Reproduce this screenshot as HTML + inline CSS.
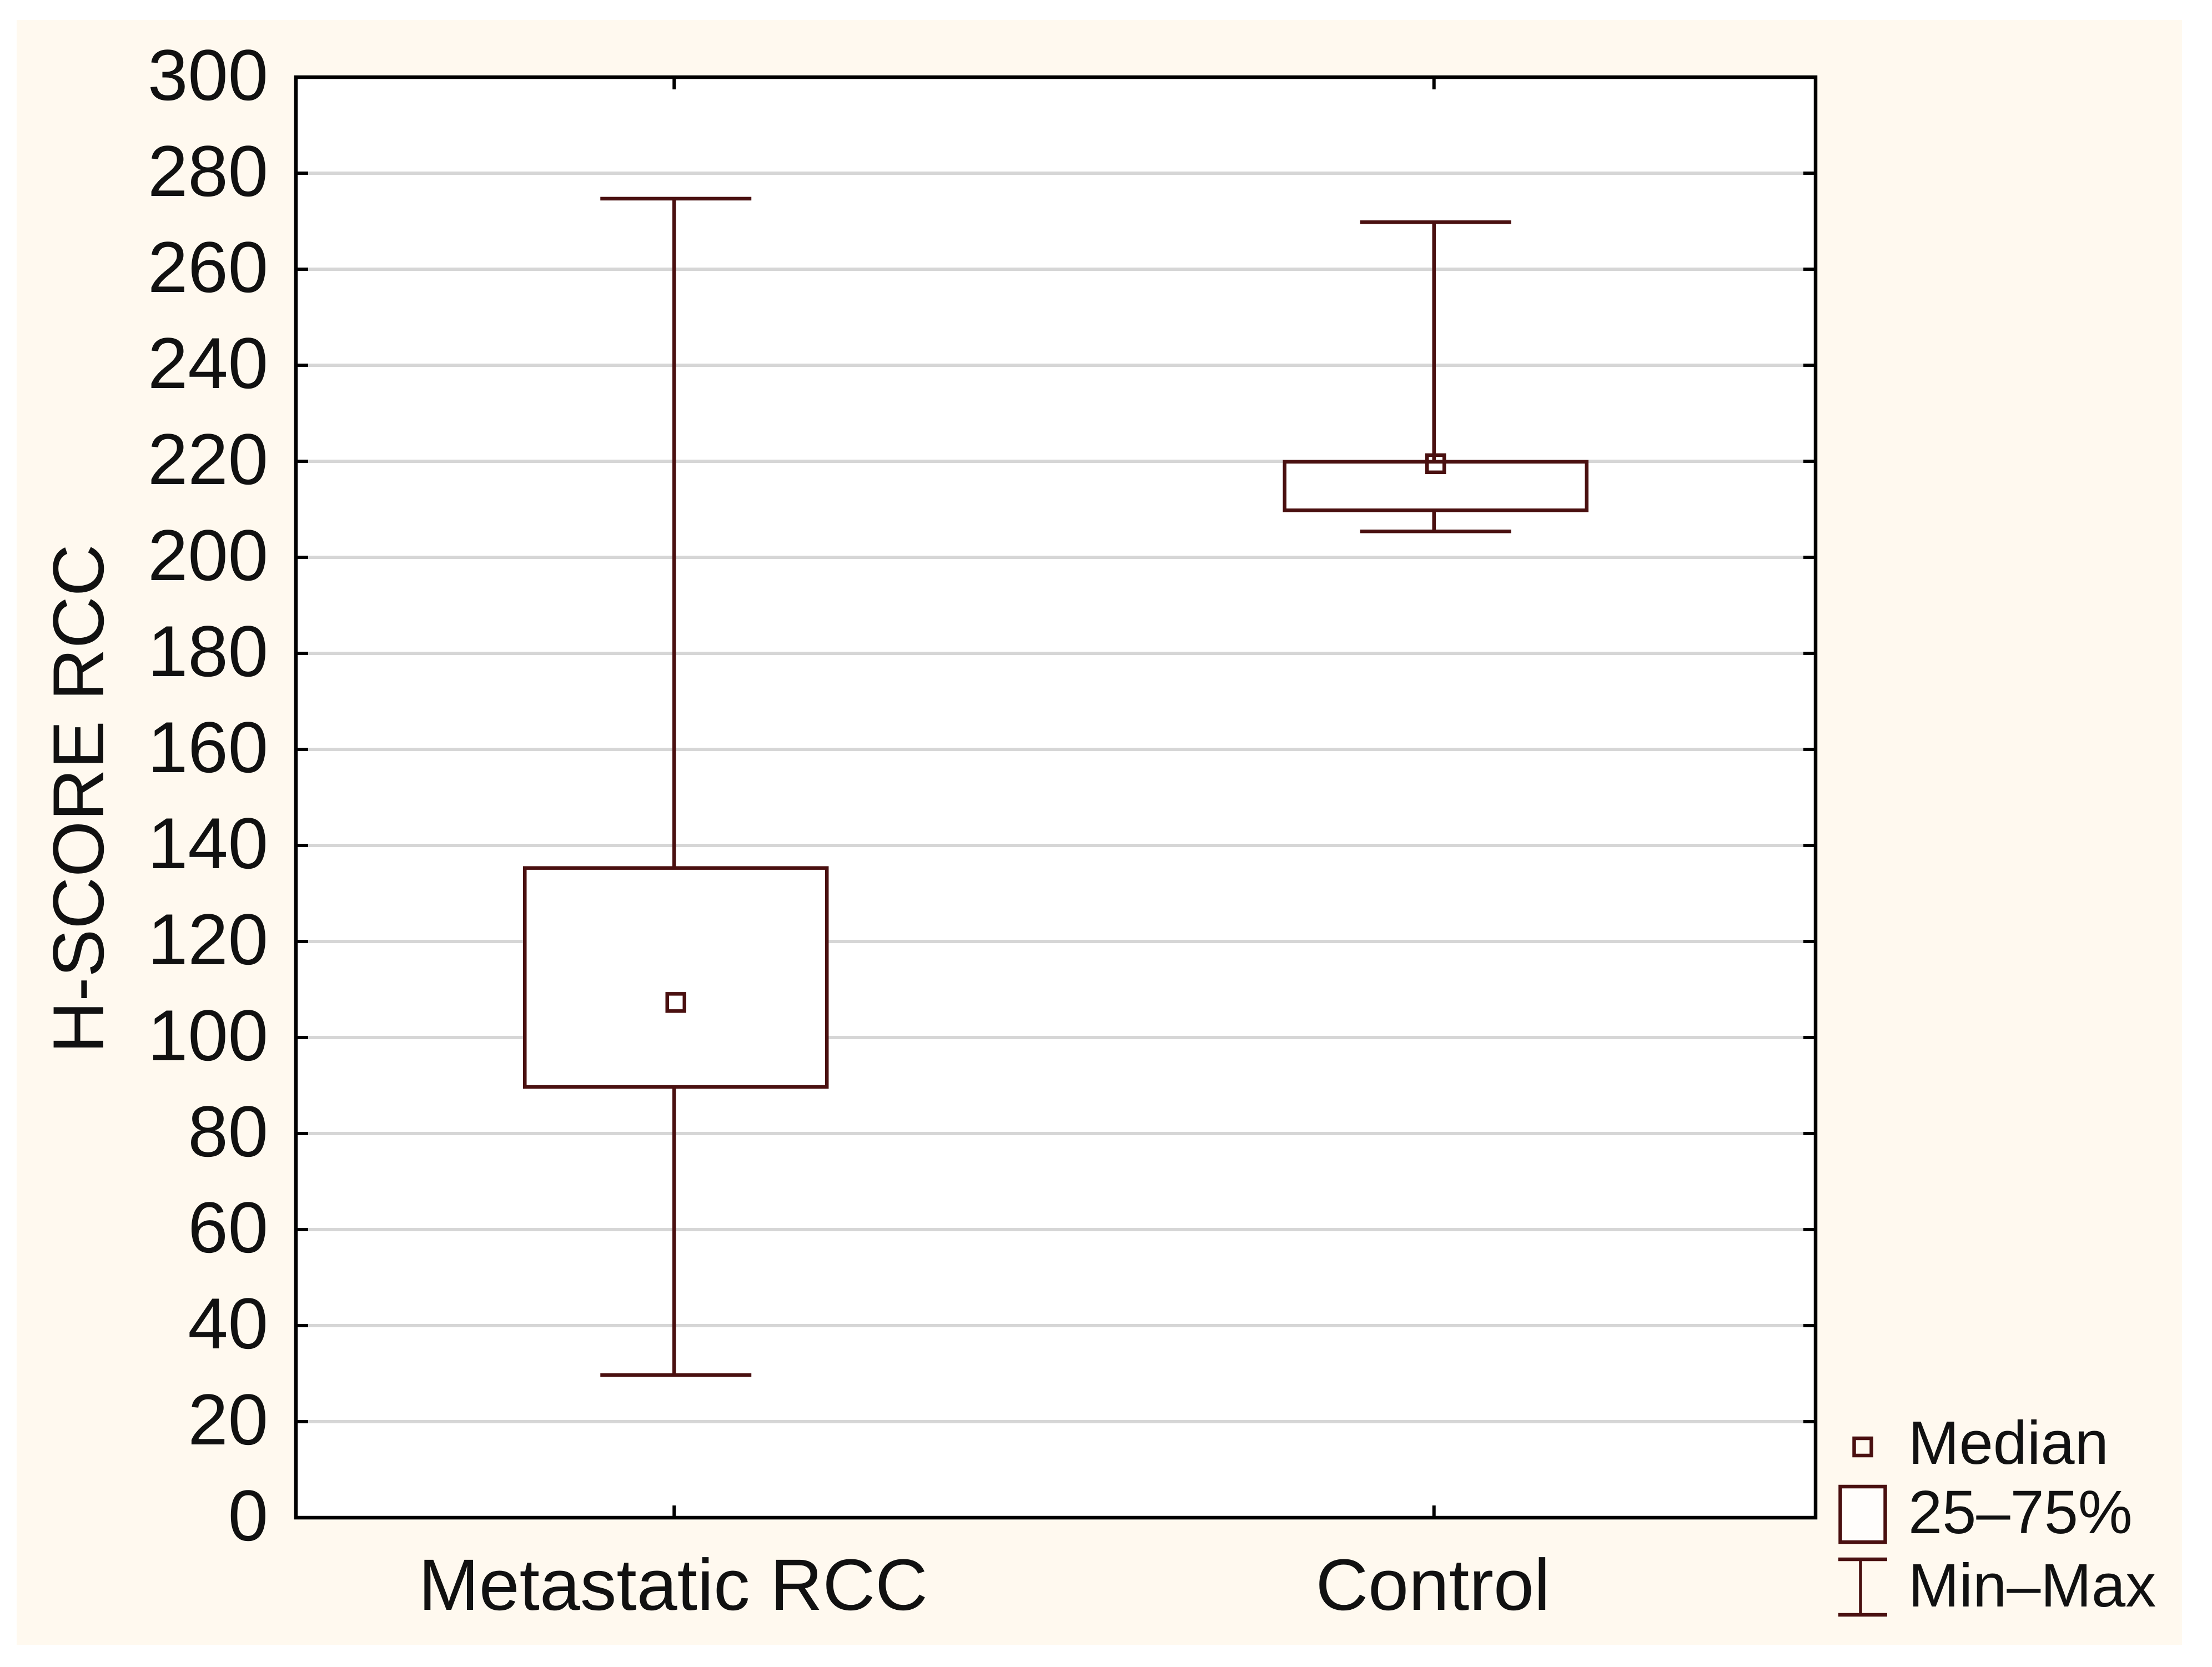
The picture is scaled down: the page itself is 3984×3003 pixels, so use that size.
<!DOCTYPE html>
<html lang="en">
<head>
<meta charset="utf-8">
<title>H-SCORE RCC box plot</title>
<style>
html,body{margin:0;padding:0;background:#fff;}
svg{display:block;}
text{font-family:"Liberation Sans",sans-serif;fill:#111;}
</style>
</head>
<body>
<svg id="chart" xmlns="http://www.w3.org/2000/svg" width="3984" height="3003" viewBox="0 0 3984 3003">
  <rect x="30" y="36" width="3900" height="2927" fill="#fff9ef"/>
  <rect x="533" y="139" width="2737" height="2595" fill="#ffffff"/>
  <g id="grid"></g>
  <g id="series"></g>
  <rect x="533" y="139" width="2737" height="2595" fill="none" stroke="#000" stroke-width="6.5"/>
  <g id="ticks"></g>
  <g id="ylabels" font-size="130" text-anchor="end"></g>
  <g id="xlabels" font-size="131" text-anchor="middle"></g>
  <text transform="translate(186 1439) rotate(-90)" font-size="130" text-anchor="middle">H-SCORE RCC</text>
  <g>
    <rect x="3339.5" y="2591" width="31" height="31" fill="none" stroke="#4a1010" stroke-width="6.5"/>
    <text x="3437" y="2637" font-size="110">Median</text>
    <rect x="3314.5" y="2678" width="81" height="100" fill="#fffdfb" stroke="#4a1010" stroke-width="6.5"/>
    <text x="3437" y="2762" font-size="110">25–75%</text>
    <g fill="none" stroke="#4a1010" stroke-width="6.5">
      <line x1="3311" x2="3399" y1="2809" y2="2809"/>
      <line x1="3311" x2="3399" y1="2909" y2="2909"/>
      <line x1="3351" x2="3351" y1="2809" y2="2909" stroke-width="5.5"/>
    </g>
    <text x="3437" y="2894" font-size="110">Min–Max</text>
  </g>
</svg>
<script>
const categories = ["Metastatic RCC", "Control"];
const minValues = [29.7, 205.4];
const q1Values = [89.7, 209.8];
const medianValues = [107.3, 219.5];
const q3Values = [135.3, 219.9];
const maxValues = [274.7, 269.8];
const yTickLabels = [0, 20, 40, 60, 80, 100, 120, 140, 160, 180, 200, 220, 240, 260, 280, 300];

const NS = "http://www.w3.org/2000/svg";
const plotLeft = 533, plotRight = 3270, plotTop = 139, plotBottom = 2734;
const yMin = 0, yMax = 300;
const MAROON = "#4a1010";
const LINE_W = 6.5;

function yScale(v) {
  return plotBottom - (v - yMin) / (yMax - yMin) * (plotBottom - plotTop);
}
function xScale(i) {
  return plotLeft + (i + 0.5) / categories.length * (plotRight - plotLeft);
}
function mk(tag, parent, attrs) {
  const el = document.createElementNS(NS, tag);
  for (const k in attrs) el.setAttribute(k, attrs[k]);
  parent.appendChild(el);
  return el;
}

const grid = document.getElementById("grid");
const ticks = document.getElementById("ticks");
const ylabels = document.getElementById("ylabels");
const xlabels = document.getElementById("xlabels");
const series = document.getElementById("series");

yTickLabels.forEach(function (v) {
  const y = yScale(v);
  if (v !== yMin && v !== yMax) {
    const g = mk("line", grid, { x1: plotLeft, x2: plotRight, y1: y, y2: y, stroke: "#d6d6d6", "stroke-width": 6 });
    
    
    const t1 = mk("line", ticks, { x1: plotLeft, x2: plotLeft + 22, y1: y, y2: y, stroke: "#000", "stroke-width": 6 });
    
    
    const t2 = mk("line", ticks, { x1: plotRight - 22, x2: plotRight, y1: y, y2: y, stroke: "#000", "stroke-width": 6 });
    
    
  }
  const lab = mk("text", ylabels, { x: 483, y: y + 41 });
  lab.textContent = String(v);
  
  
});

categories.forEach(function (name, i) {
  const cx = xScale(i);
  const wx = cx - 3;
  const boxW = 544, capW = 272, mS = 31;

  const tb = mk("line", ticks, { x1: wx, x2: wx, y1: plotBottom - 22, y2: plotBottom, stroke: "#000", "stroke-width": 6 });
  
  
  const tt = mk("line", ticks, { x1: wx, x2: wx, y1: plotTop, y2: plotTop + 22, stroke: "#000", "stroke-width": 6 });
  
  

  const whisker = mk("line", series, { x1: wx, x2: wx, y1: yScale(maxValues[i]), y2: yScale(minValues[i]), stroke: MAROON, "stroke-width": LINE_W });
  
  
  const capMax = mk("line", series, { x1: cx - capW / 2, x2: cx + capW / 2, y1: yScale(maxValues[i]), y2: yScale(maxValues[i]), stroke: MAROON, "stroke-width": LINE_W });
  
  
  const capMin = mk("line", series, { x1: cx - capW / 2, x2: cx + capW / 2, y1: yScale(minValues[i]), y2: yScale(minValues[i]), stroke: MAROON, "stroke-width": LINE_W });
  
  
  const box = mk("rect", series, { x: cx - boxW / 2, y: yScale(q3Values[i]), width: boxW, height: yScale(q1Values[i]) - yScale(q3Values[i]), fill: "#ffffff", stroke: MAROON, "stroke-width": LINE_W });
  
  
  const stub = mk("line", series, { x1: wx, x2: wx, y1: yScale(q3Values[i]) - 40, y2: yScale(q3Values[i]), stroke: MAROON, "stroke-width": LINE_W });
  
  
  const med = mk("rect", series, { x: cx - mS / 2, y: yScale(medianValues[i]) - mS / 2, width: mS, height: mS, fill: "none", stroke: MAROON, "stroke-width": LINE_W });
  
  

  const lab = mk("text", xlabels, { x: cx - 5, y: 2900 });
  lab.textContent = name;
  
  
});
</script>
</body>
</html>
